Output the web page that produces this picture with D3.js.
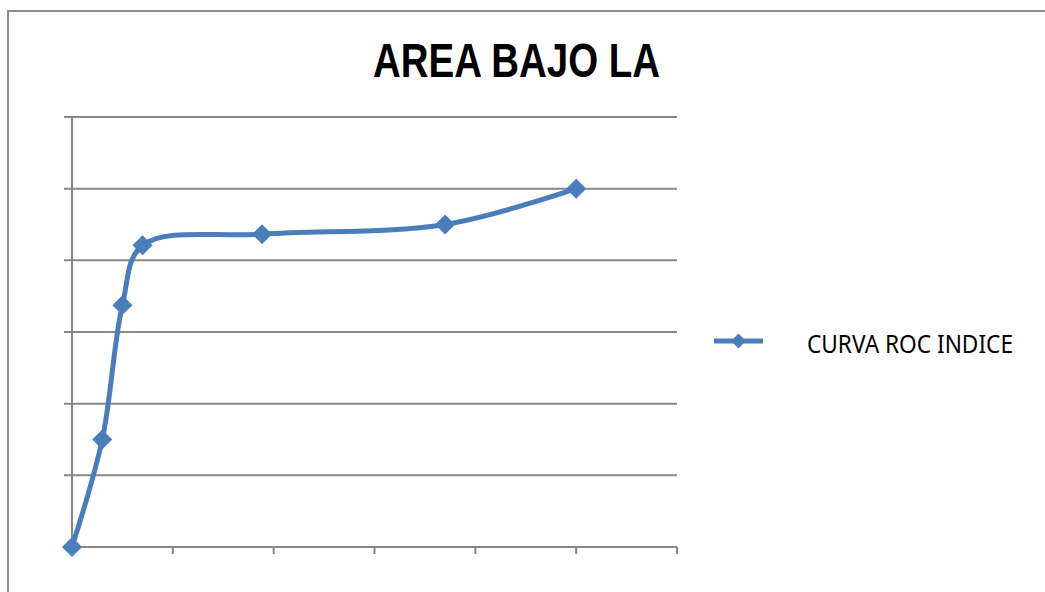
<!DOCTYPE html>
<html>
<head>
<meta charset="utf-8">
<script src="https://cdn.jsdelivr.net/npm/d3@7"></script>
<style>
  html, body { margin: 0; padding: 0; background: #fff; }
  svg { display: block; }
</style>
</head>
<body>
<svg id="chart" width="1045" height="592"></svg>
<script>
const title = "AREA BAJO LA";
const seriesName = "CURVA ROC INDICE";
const fpr = [0, 0.06, 0.10, 0.14, 0.377, 0.74, 1.0];
const tpr = [0, 0.30, 0.675, 0.842, 0.873, 0.90, 1.0];
const xTicks = [0, 0.2, 0.4, 0.6, 0.8, 1.0, 1.2];
const yTicks = [0, 0.2, 0.4, 0.6, 0.8, 1.0, 1.2];

const svg = d3.select("#chart");
const blue = "#4a7ebb";
const grid = "#878787";

// outer chart border (extends past the right/bottom of the picture)
svg.append("rect")
  .attr("x", 8).attr("y", 11)
  .attr("width", 1100).attr("height", 700)
  .attr("fill", "none").attr("stroke", "#8e8e8e").attr("stroke-width", 2);

const x = d3.scaleLinear().domain([0, 1.2]).range([72, 677]);
const y = d3.scaleLinear().domain([0, 1.2]).range([547, 117]);

// horizontal gridlines with left tick stubs
svg.append("g").selectAll("line").data(yTicks).join("line")
  .attr("x1", 64).attr("x2", x(1.2))
  .attr("y1", d => y(d)).attr("y2", d => y(d))
  .attr("stroke", grid).attr("stroke-width", 2);

// y axis line
svg.append("line")
  .attr("x1", x(0)).attr("x2", x(0))
  .attr("y1", y(1.2)).attr("y2", y(0))
  .attr("stroke", grid).attr("stroke-width", 2);

// x tick marks
svg.append("g").selectAll("line").data(xTicks.slice(1)).join("line")
  .attr("x1", d => x(d)).attr("x2", d => x(d))
  .attr("y1", y(0)).attr("y2", y(0) + 7)
  .attr("stroke", grid).attr("stroke-width", 2);

const pts = fpr.map((v, i) => [v, tpr[i]]);
const line = d3.line()
  .x(d => x(d[0])).y(d => y(d[1]))
  .curve(d3.curveCatmullRom.alpha(0.5));

svg.append("path").datum(pts)
  .attr("d", line)
  .attr("fill", "none").attr("stroke", blue).attr("stroke-width", 5)
  .attr("stroke-linejoin", "round");

const diamond = d3.symbol().type(d3.symbolSquare).size(200);
svg.append("g").selectAll("path").data(pts).join("path")
  .attr("d", diamond)
  .attr("transform", d => `translate(${x(d[0])},${y(d[1])}) rotate(45)`)
  .attr("fill", blue);

// title
svg.append("text")
  .attr("x", 373).attr("y", 77)
  .attr("font-family", "'Liberation Sans', Arial, sans-serif")
  .attr("font-weight", "bold").attr("font-size", 49)
  .attr("textLength", 287).attr("lengthAdjust", "spacingAndGlyphs")
  .attr("fill", "#000").text(title);

// legend
svg.append("line")
  .attr("x1", 714).attr("x2", 763).attr("y1", 341).attr("y2", 341)
  .attr("stroke", blue).attr("stroke-width", 5);
svg.append("path")
  .attr("d", d3.symbol().type(d3.symbolSquare).size(110))
  .attr("transform", "translate(738.5,341) rotate(45)")
  .attr("fill", blue);
svg.append("text")
  .attr("x", 807).attr("y", 353)
  .attr("font-family", "'Noto Sans', 'Open Sans', sans-serif")
  .attr("font-size", 25)
  .attr("textLength", 206).attr("lengthAdjust", "spacingAndGlyphs")
  .attr("fill", "#000").text(seriesName);
</script>
</body>
</html>
